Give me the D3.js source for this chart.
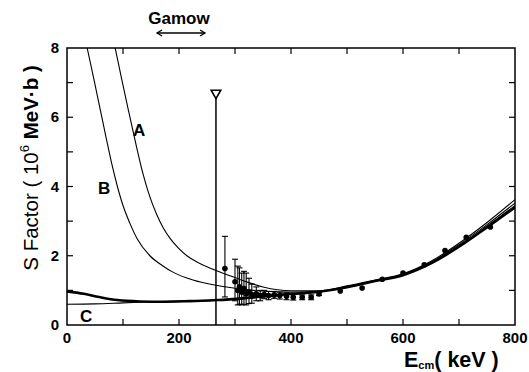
<!DOCTYPE html>
<html lang="en">
<head>
<meta charset="UTF-8">
<title>S Factor vs Ecm</title>
<script src="https://d3js.org/d3.v7.min.js"></script>
<style>
    body { margin: 0; background: #fff; }
    svg { display: block; font-family: "Liberation Sans", Arial, sans-serif; }
    .tick-label { font-size: 15px; font-weight: bold; fill: #000; }
</style>
</head>
<body>
<svg id="chart" width="529" height="372"></svg>
<script>
    // theory curves as (E keV, S)
    const curveA = [[86,8],[97,7.15],[109,6.25],[122,5.3],[136,4.35],[148,3.7],[160,3.2],[172,2.8],[184,2.5],[199,2.22],[214,2.0],[232,1.82],[250,1.68],[285,1.46],[320,1.25],[350,1.1],[400,0.99],[450,0.99],[500,1.13],[550,1.3],[600,1.48],[650,1.84],[700,2.36],[750,2.96],[800,3.62]];
    const curveB = [[36,8],[48,7.1],[59,6.25],[70,5.4],[80,4.65],[90,4.0],[100,3.45],[112,2.95],[125,2.5],[148,2.0],[170,1.72],[190,1.52],[225,1.3],[261,1.16],[300,1.06],[340,0.99],[400,0.95],[450,0.97],[500,1.1],[550,1.28],[600,1.46],[650,1.81],[700,2.32],[750,2.9],[800,3.52]];
    const curveC = [[0,0.6],[50,0.61],[100,0.64],[150,0.67],[200,0.69],[260,0.71],[320,0.77],[380,0.86],[450,0.96],[500,1.09],[550,1.27],[600,1.45],[650,1.79],[700,2.28],[750,2.85],[800,3.45]];
    const curveD = [[0,0.97],[30,0.9],[60,0.8],[90,0.72],[130,0.68],[170,0.67],[220,0.69],[270,0.72],[320,0.78],[380,0.87],[450,0.96],[500,1.09],[550,1.27],[600,1.44],[650,1.78],[700,2.26],[750,2.82],[800,3.4]];

    // measured points: E, S, error down, error up
    const pointsE  = [282, 300, 305, 308, 312, 316, 320, 325, 330, 338, 345, 352, 360, 370, 380, 392, 404, 420, 436, 450, 488, 527, 563, 600, 638, 675, 713, 756];
    const pointsS  = [1.63, 1.25, 1.0, 1.1, 0.95, 1.05, 0.9, 0.95, 0.88, 0.9, 0.85, 0.88, 0.85, 0.87, 0.85, 0.83, 0.8, 0.8, 0.8, 0.9, 0.98, 1.07, 1.32, 1.5, 1.74, 2.15, 2.53, 2.83];
    const pointsLo = [0.82, 0.55, 0.42, 0.5, 0.37, 0.45, 0.32, 0.33, 0.25, 0.2, 0.15, 0.12, 0.12, 0.1, 0.1, 0.1, 0.08, 0.07, 0.07, 0.05, 0, 0, 0, 0, 0, 0, 0, 0];
    const pointsHi = [0.93, 0.65, 0.7, 0.55, 0.55, 0.5, 0.6, 0.4, 0.3, 0.2, 0.15, 0.12, 0.12, 0.1, 0.1, 0.1, 0.08, 0.07, 0.07, 0.05, 0, 0, 0, 0, 0, 0, 0, 0];

    // upper limit point
    const limitE = 266, limitS = 6.7;

    const xTicks = [0, 200, 400, 600, 800];
    const yTicks = [0, 2, 4, 6, 8];
    const xMinor = [100, 200, 300, 400, 500, 600, 700];
    const yMinor = [1, 2, 3, 4, 5, 6, 7];

    const svg = d3.select("#chart");
    const x = d3.scaleLinear().domain([0, 800]).range([67, 515]);
    const y = d3.scaleLinear().domain([0, 8]).range([325, 48]);

    // frame
    svg.append("rect")
        .attr("x", x(0)).attr("y", y(8))
        .attr("width", x(800) - x(0)).attr("height", y(0) - y(8))
        .attr("fill", "none").attr("stroke", "#000").attr("stroke-width", 1.5);

    // inward ticks
    const tk = svg.append("g").attr("stroke", "#000").attr("stroke-width", 1.2);
    xMinor.forEach(v => {
        tk.append("line").attr("x1", x(v)).attr("x2", x(v)).attr("y1", y(0)).attr("y2", y(0) - 6);
        tk.append("line").attr("x1", x(v)).attr("x2", x(v)).attr("y1", y(8)).attr("y2", y(8) + 6);
    });
    yMinor.forEach(v => {
        tk.append("line").attr("x1", x(0)).attr("x2", x(0) + 6).attr("y1", y(v)).attr("y2", y(v));
        tk.append("line").attr("x1", x(800)).attr("x2", x(800) - 6).attr("y1", y(v)).attr("y2", y(v));
    });

    svg.selectAll(".xl").data(xTicks).enter().append("text")
        .attr("class", "tick-label")
        .attr("x", d => x(d)).attr("y", 343)
        .attr("text-anchor", "middle").text(d => d);
    svg.selectAll(".yl").data(yTicks).enter().append("text")
        .attr("class", "tick-label")
        .attr("x", 59).attr("y", d => y(d) + 5)
        .attr("text-anchor", "end").text(d => d);

    // curves
    svg.append("clipPath").attr("id", "plotClip").append("rect")
        .attr("x", x(0)).attr("y", y(8)).attr("width", x(800) - x(0)).attr("height", y(0) - y(8));
    const plot = svg.append("g").attr("clip-path", "url(#plotClip)");
    const line = d3.line().x(d => x(d[0])).y(d => y(d[1])).curve(d3.curveMonotoneX);

    [[curveA, 1.1], [curveB, 1.1], [curveC, 1.1], [curveD, 2.6]].forEach(([c, w]) => {
        plot.append("path").attr("d", line(c))
            .attr("fill", "none").attr("stroke", "#000").attr("stroke-width", w);
    });

    // upper limit bar
    plot.append("line")
        .attr("x1", x(limitE)).attr("x2", x(limitE))
        .attr("y1", y(0)).attr("y2", y(limitS))
        .attr("stroke", "#000").attr("stroke-width", 1.5);
    plot.append("path")
        .attr("d", d3.symbol().type(d3.symbolTriangle).size(40)())
        .attr("transform", `translate(${x(limitE)},${y(limitS)}) rotate(180)`)
        .attr("fill", "#fff").attr("stroke", "#000").attr("stroke-width", 1.6);

    // error bars and points
    const pts = pointsE.map((e, i) => ({ e: e, s: pointsS[i], lo: pointsLo[i], hi: pointsHi[i] }));
    const eb = plot.append("g").attr("stroke", "#000").attr("stroke-width", 1.1);
    pts.filter(d => d.lo + d.hi > 0).forEach(d => {
        eb.append("line").attr("x1", x(d.e)).attr("x2", x(d.e)).attr("y1", y(d.s - d.lo)).attr("y2", y(d.s + d.hi));
        [d.s - d.lo, d.s + d.hi].forEach(v => {
            eb.append("line").attr("x1", x(d.e) - 3).attr("x2", x(d.e) + 3).attr("y1", y(v)).attr("y2", y(v));
        });
    });
    plot.selectAll(".pt").data(pts).enter().append("circle")
        .attr("cx", d => x(d.e)).attr("cy", d => y(d.s))
        .attr("r", 2.8).attr("fill", "#000");

    // curve labels
    const lab = svg.append("g").attr("font-size", 17).attr("font-weight", "bold");
    lab.append("text").attr("x", 133).attr("y", 136).text("A");
    lab.append("text").attr("x", 98).attr("y", 194).text("B");
    lab.append("text").attr("x", 80).attr("y", 322).text("C");

    // Gamow window
    svg.append("text").attr("x", 179).attr("y", 24)
        .attr("text-anchor", "middle").attr("font-size", 17).attr("font-weight", "bold").text("Gamow");
    const ar = svg.append("g").attr("stroke", "#000").attr("stroke-width", 1.3).attr("fill", "none");
    ar.append("line").attr("x1", 157).attr("x2", 205).attr("y1", 33).attr("y2", 33);
    ar.append("path").attr("d", "M162,30 L157,33 L162,36");
    ar.append("path").attr("d", "M200,30 L205,33 L200,36");

    // axis titles
    const yt = svg.append("text")
        .attr("transform", "translate(38,168) rotate(-90)")
        .attr("text-anchor", "middle").attr("font-size", 20.5);
    yt.append("tspan").text("S Factor ( 10");
    yt.append("tspan").attr("font-size", 13).attr("dy", -9).text("6");
    yt.append("tspan").attr("dy", 9).attr("font-weight", "bold").text(" MeV\u00B7b )");

    const xt = svg.append("text").attr("x", 404).attr("y", 367)
        .attr("font-size", 21.5).attr("font-weight", "bold");
    xt.append("tspan").text("E");
    xt.append("tspan").attr("font-size", 11).attr("dy", 2).text("cm");
    xt.append("tspan").attr("dy", -2).text("( keV )");
</script>
</body>
</html>
